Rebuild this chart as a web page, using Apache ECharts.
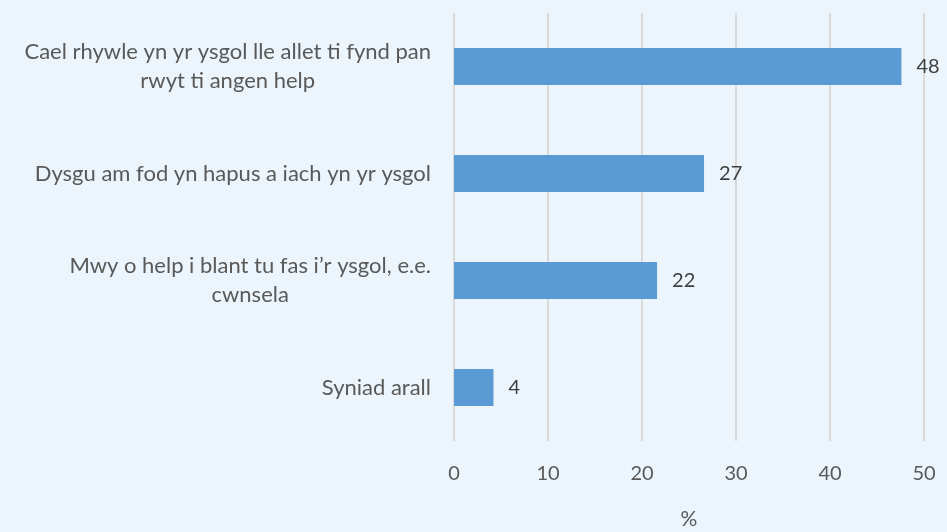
<!DOCTYPE html>
<html>
<head>
<meta charset="utf-8">
<script src="https://cdn.jsdelivr.net/npm/echarts@6/dist/echarts.min.js"></script>
<style>
  * { margin: 0; padding: 0; }
  html, body { background: #EBF5FB; }
  #container { width: 947px; height: 532px; }
</style>
</head>
<body>
<div id="container"></div>
<script>
var categories = [
  'Cael rhywle yn yr ysgol lle allet ti fynd pan\nrwyt ti angen help',
  'Dysgu am fod yn hapus a iach yn yr ysgol',
  'Mwy o help i blant tu fas i\u2019r ysgol, e.e.\ncwnsela',
  'Syniad arall'
];
var values = [47.6, 26.6, 21.6, 4.2];
var xTicks = { min: 0, max: 50, interval: 10 };

var chart = echarts.init(document.getElementById('container'));
var font = 'Lato, "Open Sans", sans-serif';

chart.setOption({
  backgroundColor: '#EBF5FB',
  animation: false,
  grid: { left: 454, right: 23, top: 13, bottom: 91, containLabel: false, outerBoundsMode: 'none' },
  xAxis: {
    type: 'value',
    min: xTicks.min,
    max: xTicks.max,
    interval: xTicks.interval,
    name: '%',
    nameLocation: 'middle',
    nameGap: 68,
    nameTextStyle: { color: '#595959', fontSize: 21, fontFamily: font },
    axisLine: { show: false },
    axisTick: { show: false },
    axisLabel: { color: '#595959', fontSize: 20, fontFamily: font, margin: 23 },
    splitLine: { lineStyle: { color: '#D9D9D9', width: 2 } }
  },
  yAxis: {
    type: 'category',
    inverse: true,
    data: categories,
    axisLine: { show: false },
    axisTick: { show: false },
    axisLabel: {
      margin: 23,
      formatter: function (v) {
        return v.split('\n').map(function (s) { return '{c|' + s + '}'; }).join('\n');
      },
      rich: {
        c: { color: '#595959', fontSize: 22, fontFamily: font, align: 'center', lineHeight: 29 }
      }
    }
  },
  series: [{
    type: 'bar',
    data: values,
    barWidth: 37,
    itemStyle: { color: '#5B9BD5' },
    label: {
      show: true,
      position: 'right',
      distance: 15,
      color: '#404040',
      fontSize: 20,
      fontFamily: font,
      formatter: function (p) { return Math.round(p.value); }
    }
  }]
});
</script>
</body>
</html>
